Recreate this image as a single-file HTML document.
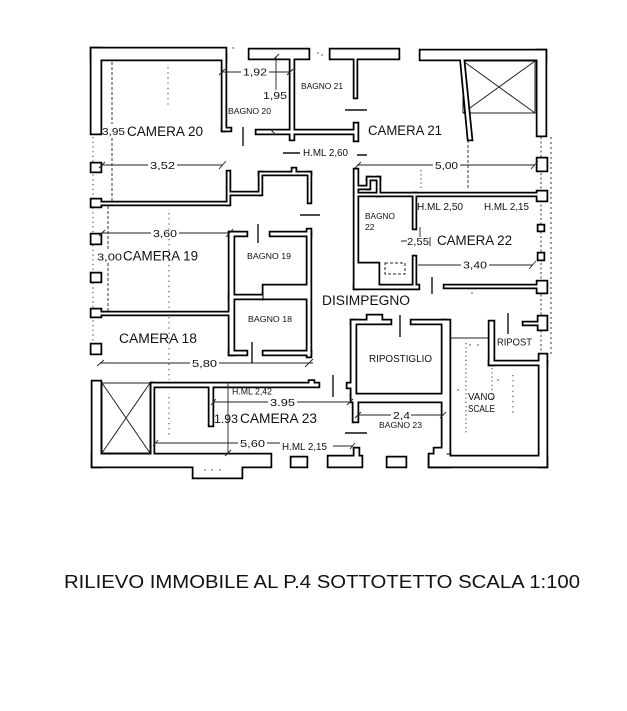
<!DOCTYPE html>
<html>
<head>
<meta charset="utf-8">
<style>
  html,body{margin:0;padding:0;background:#fff;}
  svg{display:block;}
  text{font-family:"Liberation Sans", Arial, sans-serif;fill:#111;}
</style>
</head>
<body>
<svg width="627" height="711" viewBox="0 0 627 711" xmlns="http://www.w3.org/2000/svg">
  <rect x="0" y="0" width="627" height="711" fill="#fff"/>
  <defs>
    <g id="w">
      <!-- top-left -->
      <rect x="91.5" y="48.5" width="134" height="11"/>
      <rect x="91.5" y="48.5" width="9" height="85"/>
      <rect x="222.5" y="55" width="3" height="75.5"/>
      <rect x="222.5" y="128.5" width="8" height="2"/>
      <!-- bagno bars -->
      <rect x="249.5" y="49.5" width="59" height="9"/>
      <rect x="290.5" y="55" width="3" height="84.5"/>
      <rect x="256.5" y="130.5" width="99" height="3"/>
      <rect x="354.5" y="123.5" width="3" height="17"/>
      <rect x="330.5" y="49.5" width="68" height="9"/>
      <rect x="354.5" y="55" width="2" height="42.5"/>
      <!-- top-right -->
      <rect x="420.5" y="50.5" width="125" height="9"/>
      <rect x="537.5" y="50.5" width="8" height="85"/>
      <polygon points="460.5,55 463,55 471.5,139.5 468.5,139.5"/>
      <!-- left columns -->
      <rect x="91.5" y="163.5" width="9" height="8"/>
      <rect x="91.5" y="199.5" width="9" height="7"/>
      <rect x="100" y="202.5" width="128.5" height="2"/>
      <rect x="227.5" y="171.5" width="2" height="33"/>
      <!-- stepped wall -->
      <rect x="229.5" y="192.5" width="30" height="2"/>
      <rect x="259.5" y="172.5" width="2" height="22"/>
      <rect x="259.5" y="172.5" width="51" height="2"/>
      <rect x="292.5" y="168.5" width="3" height="4"/>
      <rect x="308.5" y="172.5" width="2" height="30"/>
      <rect x="91.5" y="234.5" width="9" height="9"/>
      <rect x="91.5" y="273.5" width="9" height="8"/>
      <rect x="91.5" y="309.5" width="9" height="7"/>
      <rect x="100" y="312.5" width="131.5" height="2"/>
      <rect x="91.5" y="344.5" width="9" height="9"/>
      <!-- bagno 19/18 -->
      <rect x="229.5" y="232.5" width="4" height="122"/>
      <rect x="229.5" y="232.5" width="17" height="3"/>
      <rect x="270.5" y="232.5" width="40" height="3"/>
      <rect x="307.5" y="229.5" width="3" height="127"/>
      <rect x="263.5" y="285.5" width="45" height="13"/>
      <rect x="229.5" y="295.5" width="33" height="3"/>
      <rect x="229.5" y="351.5" width="17" height="3"/>
      <rect x="263.5" y="351.5" width="47" height="3"/>
      <!-- camera 22 / bagno 22 -->
      <rect x="354.5" y="169.5" width="3" height="119"/>
      <rect x="356" y="186.5" width="12.5" height="2"/>
      <rect x="367.5" y="177.5" width="2" height="11"/>
      <rect x="367.5" y="177.5" width="12" height="2"/>
      <rect x="377.5" y="177.5" width="2" height="18"/>
      <rect x="356" y="193.5" width="183" height="2"/>
      <rect x="537.5" y="191.5" width="9" height="9"/>
      <rect x="537.5" y="158.5" width="9" height="12"/>
      <rect x="538.5" y="225.5" width="5" height="5"/>
      <rect x="538.5" y="253.5" width="5" height="6"/>
      <rect x="537.5" y="281.5" width="9" height="11"/>
      <rect x="444.5" y="285.5" width="94" height="2"/>
      <rect x="354.5" y="285.5" width="64" height="3"/>
      <rect x="413.5" y="193.5" width="2" height="35"/>
      <rect x="413.5" y="256.5" width="2" height="31"/>
      <rect x="356" y="263.5" width="22.5" height="24"/>
      <!-- ripostiglio / bagno 23 / vano scale -->
      <rect x="351.5" y="320.5" width="39" height="3"/>
      <rect x="367.5" y="315.5" width="14" height="6"/>
      <rect x="411.5" y="320.5" width="34" height="3"/>
      <rect x="351.5" y="320.5" width="4" height="78"/>
      <rect x="347.5" y="383.5" width="5" height="4"/>
      <rect x="442.5" y="320.5" width="7" height="133"/>
      <rect x="351.5" y="394.5" width="94" height="7"/>
      <rect x="353.5" y="400" width="4" height="21.5"/>
      <rect x="434.5" y="448.5" width="12" height="8"/>
      <rect x="429.5" y="454.5" width="20" height="12"/>
      <rect x="429.5" y="456.5" width="117" height="10"/>
      <rect x="539.5" y="354.5" width="7" height="112"/>
      <rect x="489.5" y="321.5" width="4" height="43"/>
      <rect x="489.5" y="361.5" width="57" height="3"/>
      <rect x="538.5" y="316.5" width="8" height="13"/>
      <rect x="523.5" y="322.5" width="16" height="2"/>
      <!-- camera 23 -->
      <rect x="92.5" y="381.5" width="8" height="85"/>
      <rect x="92.5" y="454.5" width="178" height="12"/>
      <rect x="193.5" y="460" width="48" height="17.5"/>
      <rect x="151.5" y="383.5" width="2" height="71"/>
      <rect x="151.5" y="383.5" width="167" height="3"/>
      <rect x="309.5" y="381" width="4" height="3"/>
      <rect x="209.5" y="385" width="3" height="40.5"/>
      <!-- bottom pieces -->
      <rect x="291.5" y="457.5" width="15" height="9"/>
      <rect x="328.5" y="456.5" width="33" height="10"/>
      <rect x="354.5" y="448.5" width="4" height="9"/>
      <rect x="387.5" y="457.5" width="18" height="9"/>
    </g>
  </defs>

  <!-- dotted / dashed guide lines (under walls) -->
  <g stroke="#333" stroke-width="1" fill="none">
    <line x1="168" y1="67" x2="168" y2="107" stroke-dasharray="1.2 4"/>
    <line x1="169" y1="213" x2="169" y2="380" stroke-dasharray="1.2 4"/>
    <line x1="169" y1="397" x2="169" y2="437" stroke-dasharray="1.2 4"/>
    <line x1="468" y1="140" x2="468" y2="188" stroke-dasharray="3 2"/>
    <line x1="93" y1="137" x2="93" y2="343" stroke-dasharray="1.2 3.5"/>
    <line x1="541" y1="137" x2="541" y2="355" stroke-dasharray="2 2.5"/>
    <line x1="551" y1="137" x2="551" y2="355" stroke-dasharray="2 3"/>
    <line x1="466" y1="343" x2="466" y2="433" stroke-dasharray="1.2 3"/>
    <line x1="492" y1="368" x2="492" y2="402" stroke-dasharray="1.2 3"/>
    <line x1="513" y1="375" x2="513" y2="413" stroke-dasharray="1.2 4"/>
    <line x1="421" y1="170" x2="421" y2="190" stroke-dasharray="1.2 3"/>
    <line x1="112" y1="57" x2="112" y2="124" stroke-dasharray="3 2"/>
    <line x1="112" y1="138" x2="112" y2="203" stroke-dasharray="3 2"/>
    <line x1="108" y1="206" x2="108" y2="249" stroke-dasharray="3 2"/>
    <line x1="108" y1="263" x2="108" y2="311" stroke-dasharray="3 2"/>
  </g>

  <!-- X boxes -->
  <g stroke="#222" stroke-width="1" fill="none">
    <rect x="463" y="61" width="72" height="52"/>
    <line x1="463" y1="61" x2="535" y2="113"/>
    <line x1="535" y1="61" x2="463" y2="113"/>
    <rect x="102" y="383" width="48" height="70"/>
    <line x1="102" y1="383" x2="150" y2="453"/>
    <line x1="150" y1="383" x2="102" y2="453"/>
  </g>

  <!-- walls -->
  <use href="#w" fill="#000" stroke="#000" stroke-width="3.5"/>
  <use href="#w" fill="#fff" stroke="none"/>

  <!-- shower tray dashed -->
  <rect x="385" y="263" width="20" height="11" fill="none" stroke="#222" stroke-width="1" stroke-dasharray="3 2"/>

  <!-- dimension lines -->
  <g stroke="#222" stroke-width="0.9" fill="none">
    <path d="M222 72H241M269 72H290"/>
    <path d="M219 75L225 69M287 75L293 69"/>
    <path d="M276 57V90M273 60L279 54"/>
    <path d="M102 165H148M177 165H223M219 169L226 161M99 168L105 162"/>
    <path d="M357 165H433M460 165H535M531 169L538 161M355 168L361 162"/>
    <path d="M102 233H151M179 233H230M226 237L233 229M99 236L105 230"/>
    <path d="M100 363H190M219 363H313M97 366L104 360M305 367L313 359"/>
    <path d="M418 265H461M489 265H533M529 269L536 261"/>
    <path d="M401 241H407M430 237V246M420 227V237"/>
    <path d="M213 402H268M297 402H350M211 405L216 399M347 405L353 399"/>
    <path d="M228 383V453M225 456L231 450"/>
    <path d="M155 443H238M267 443H280M153 446L158 440"/>
    <path d="M333 446H353M350 449L355 443"/>
    <path d="M358 415H391M411 415H443M355 418L361 412M440 418L446 412"/>
    <path d="M451 338H488"/>
    <path d="M271 130L276 135"/>
  </g>
  <!-- short heavy marks / door leaves -->
  <g stroke="#111" stroke-width="1.4" fill="none">
    <path d="M283 153H300M345 110H367M357 155H367M300 215H320M345 433H367"/>
    <path d="M243 127V146M258 224V243M252 342V363M400 315V337M432 277V294M333 375V397M508 313V334"/>
  </g>
  <!-- small dots -->
  <g fill="#333">
    <circle cx="233" cy="48" r="0.7"/>
    <circle cx="318" cy="53" r="0.7"/>
    <circle cx="322" cy="55" r="0.7"/>
    <circle cx="205" cy="470" r="0.7"/>
    <circle cx="212" cy="470" r="0.7"/>
    <circle cx="220" cy="470" r="0.7"/>
    <circle cx="458" cy="390" r="0.7"/>
    <circle cx="498" cy="380" r="0.7"/>
    <circle cx="470" cy="345" r="0.7"/>
    <circle cx="478" cy="345" r="0.7"/>
    <circle cx="472" cy="293" r="0.7"/>
  </g>

  <!-- labels -->
  <text x="243" y="75.5" font-size="10.5" textLength="24" lengthAdjust="spacingAndGlyphs">1,92</text>
  <text x="263" y="99" font-size="10.5" textLength="24" lengthAdjust="spacingAndGlyphs">1,95</text>
  <text x="228" y="114" font-size="8.6" textLength="43" lengthAdjust="spacingAndGlyphs">BAGNO 20</text>
  <text x="301" y="89" font-size="8.6" textLength="42" lengthAdjust="spacingAndGlyphs">BAGNO 21</text>
  <text x="102" y="135" font-size="10.5" textLength="23" lengthAdjust="spacingAndGlyphs">3,95</text>
  <text x="127" y="136" font-size="13.5" textLength="76" lengthAdjust="spacingAndGlyphs">CAMERA 20</text>
  <text x="368" y="135" font-size="13.5" textLength="74" lengthAdjust="spacingAndGlyphs">CAMERA 21</text>
  <text x="303" y="156" font-size="10" textLength="45" lengthAdjust="spacingAndGlyphs">H.ML 2,60</text>
  <text x="150" y="169" font-size="10.5" textLength="25" lengthAdjust="spacingAndGlyphs">3,52</text>
  <text x="435" y="169" font-size="10.5" textLength="23" lengthAdjust="spacingAndGlyphs">5,00</text>
  <text x="365" y="219" font-size="8.6" textLength="30" lengthAdjust="spacingAndGlyphs">BAGNO</text>
  <text x="365" y="230" font-size="8.6">22</text>
  <text x="417" y="210" font-size="10" textLength="46" lengthAdjust="spacingAndGlyphs">H.ML 2,50</text>
  <text x="484" y="210" font-size="10" textLength="45" lengthAdjust="spacingAndGlyphs">H.ML 2,15</text>
  <text x="153" y="237" font-size="10.5" textLength="24" lengthAdjust="spacingAndGlyphs">3,60</text>
  <text x="407" y="245" font-size="10.5" textLength="22" lengthAdjust="spacingAndGlyphs">2,55</text>
  <text x="437" y="245" font-size="13.5" textLength="75" lengthAdjust="spacingAndGlyphs">CAMERA 22</text>
  <text x="97" y="260.5" font-size="10.5" textLength="25" lengthAdjust="spacingAndGlyphs">3,00</text>
  <text x="123" y="260.5" font-size="13.5" textLength="75" lengthAdjust="spacingAndGlyphs">CAMERA 19</text>
  <text x="247" y="259" font-size="8.6" textLength="44" lengthAdjust="spacingAndGlyphs">BAGNO 19</text>
  <text x="463" y="268.5" font-size="10.5" textLength="24" lengthAdjust="spacingAndGlyphs">3,40</text>
  <text x="322" y="305" font-size="13.5" textLength="88" lengthAdjust="spacingAndGlyphs">DISIMPEGNO</text>
  <text x="248" y="322" font-size="8.6" textLength="44" lengthAdjust="spacingAndGlyphs">BAGNO 18</text>
  <text x="119" y="343" font-size="13.5" textLength="78" lengthAdjust="spacingAndGlyphs">CAMERA 18</text>
  <text x="497" y="345.5" font-size="10" textLength="35" lengthAdjust="spacingAndGlyphs">RIPOST</text>
  <text x="369" y="362" font-size="10.5" textLength="63" lengthAdjust="spacingAndGlyphs">RIPOSTIGLIO</text>
  <text x="192" y="367" font-size="10.5" textLength="25" lengthAdjust="spacingAndGlyphs">5,80</text>
  <text x="232" y="394.5" font-size="9" textLength="40" lengthAdjust="spacingAndGlyphs">H.ML 2,42</text>
  <text x="468" y="400" font-size="10" textLength="27" lengthAdjust="spacingAndGlyphs">VANO</text>
  <text x="270" y="406" font-size="10.5" textLength="25" lengthAdjust="spacingAndGlyphs">3.95</text>
  <text x="468" y="412" font-size="10" textLength="27" lengthAdjust="spacingAndGlyphs">SCALE</text>
  <text x="393" y="419" font-size="10.5" textLength="17" lengthAdjust="spacingAndGlyphs">2,4</text>
  <text x="214" y="423" font-size="12" textLength="24" lengthAdjust="spacingAndGlyphs">1.93</text>
  <text x="240" y="423" font-size="13.5" textLength="77" lengthAdjust="spacingAndGlyphs">CAMERA 23</text>
  <text x="379" y="428" font-size="8.6" textLength="43" lengthAdjust="spacingAndGlyphs">BAGNO 23</text>
  <text x="240" y="447" font-size="10.5" textLength="25" lengthAdjust="spacingAndGlyphs">5,60</text>
  <text x="282" y="450" font-size="10" textLength="45" lengthAdjust="spacingAndGlyphs">H.ML 2,15</text>

  <text x="64" y="588" font-size="18" textLength="516" lengthAdjust="spacingAndGlyphs">RILIEVO IMMOBILE AL P.4 SOTTOTETTO SCALA 1:100</text>
</svg>
</body>
</html>
